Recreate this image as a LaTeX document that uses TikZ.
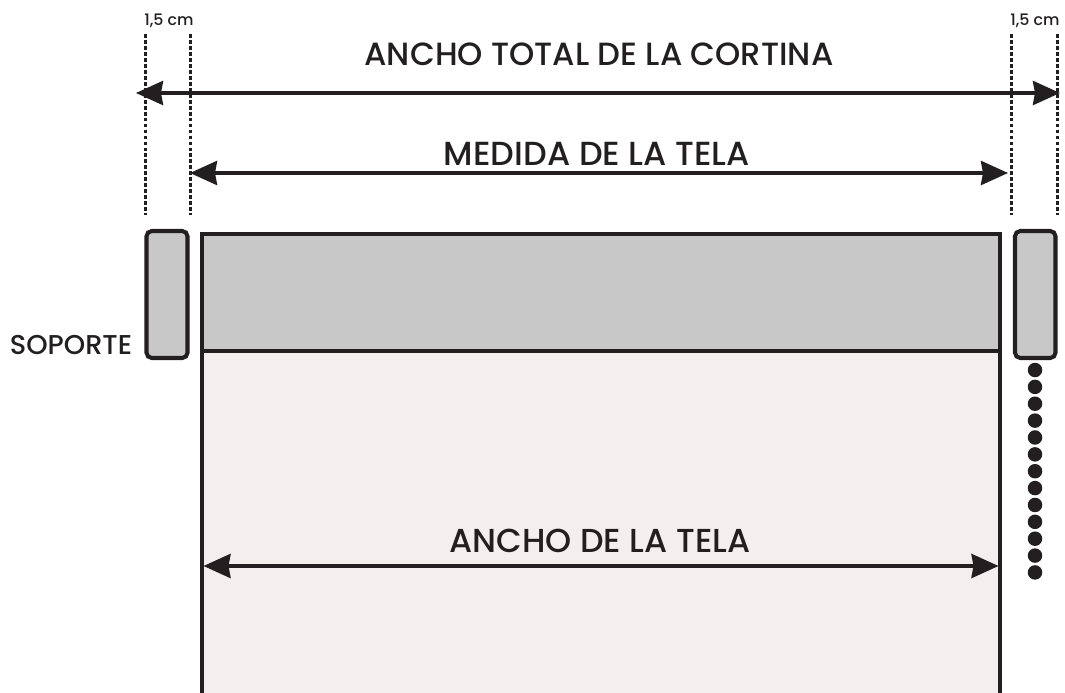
\documentclass[tikz,border=0pt]{standalone}
\usepackage{fontspec}
\setmainfont{Poppins Medium}
\usetikzlibrary{arrows.meta}
\definecolor{tinta}{HTML}{231F20}
\definecolor{grisTela}{HTML}{C8C8C8}
\definecolor{rosaTela}{HTML}{F3EFEE}
\tikzset{
	cota/.style={line width=2.1pt,draw=tinta,{Stealth[length=27*0.02cm,width=24*0.02cm,inset=2*0.02cm]}-{Stealth[length=27*0.02cm,width=24*0.02cm,inset=2*0.02cm]}},
	guia/.style={line width=1.6pt,draw=tinta,dash pattern=on 2.2pt off 1.2pt},
	panel/.style={line width=2.1pt,draw=tinta},
	soporte/.style={panel,fill=grisTela,rounded corners=3pt,line width=2.3pt},
	titulo/.style={text=tinta,font=\fontsize{18.3}{20}\selectfont},
	nota/.style={text=tinta,font=\fontsize{9}{10}\selectfont},
	bolita/.style={circle,fill=tinta,inner sep=0pt,minimum size=14.5*0.02cm}
}
\begin{document}
\begin{tikzpicture}[x=0.02cm,y=-0.02cm]
\useasboundingbox (0,0) rectangle (1065,693);

% guias punteadas
\foreach \x/\nombre in {145.5/a,190.5/b,1011.5/c,1057.5/d} {
	\coordinate (guia\nombre1) at (\x,34);
	\coordinate (guia\nombre2) at (\x,215);
	\draw[guia] (guia\nombre1) -- (guia\nombre2);
}

% cortina
\begin{scope}
\clip (0,0) rectangle (1065,693);
\draw[panel,fill=rosaTela] (202,351) rectangle (1000,720);
\end{scope}
\draw[panel,fill=grisTela] (202,234) rectangle (1000,351);
\draw[soporte] (146.5,231) rectangle (187.5,358);
\draw[soporte] (1015,231) rectangle (1055.5,358);

% cotas
\coordinate (totalIzq) at (136,93);
\coordinate (totalDer) at (1060,93);
\coordinate (medidaIzq) at (190,173);
\coordinate (medidaDer) at (1008,173);
\coordinate (anchoIzq) at (203.5,566);
\coordinate (anchoDer) at (998.5,566);
\draw[cota] (totalIzq) -- (totalDer);
\draw[cota] (medidaIzq) -- (medidaDer);
\draw[cota] (anchoIzq) -- (anchoDer);

\node[titulo] (tituloTotal) at (599,54) {ANCHO TOTAL DE LA CORTINA};
\node[titulo,font=\fontsize{19}{20}\selectfont] (tituloMedida) at (597,154) {MEDIDA DE LA TELA};
\node[titulo,font=\fontsize{18.9}{20}\selectfont] (tituloAncho) at (600,541) {ANCHO DE LA TELA};
\node[text=tinta,font=\fontsize{15.5}{18}\selectfont] (tituloSoporte) at (71,345) {SOPORTE};
\node[nota] (notaIzq) at (169,21) {1,5 cm};
\node[nota] (notaDer) at (1035,21) {1,5 cm};

\foreach \i in {0,...,12}
	\node[bolita] (bolita\i) at (1035,370+16.87*\i) {};

\end{tikzpicture}
\end{document}
